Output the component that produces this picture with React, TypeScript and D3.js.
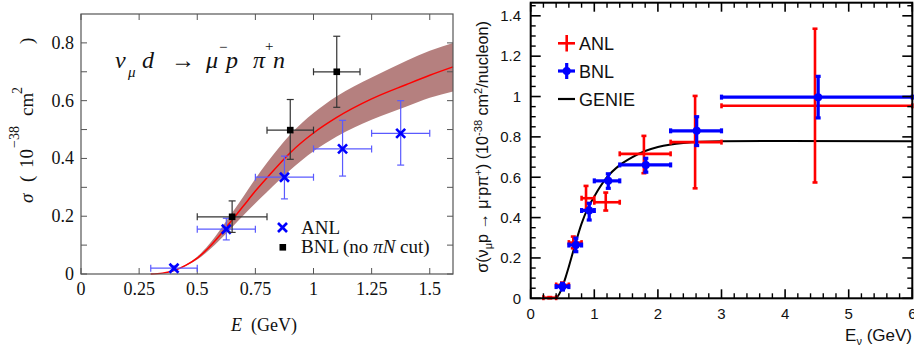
import React from 'react';
import * as d3 from 'd3';

// ---------- Left panel data (nu_mu d -> mu- p pi+ n) ----------
const leftCurveE = [0.3, 0.35, 0.4, 0.45, 0.5, 0.55, 0.6, 0.65, 0.7, 0.75, 0.8, 0.9, 1.0, 1.1, 1.25, 1.4, 1.5, 1.6];
const leftCurveMid = [0, 0.003, 0.012, 0.03, 0.055, 0.092, 0.137, 0.187, 0.237, 0.287, 0.333, 0.42, 0.488, 0.542, 0.606, 0.656, 0.688, 0.717];
const leftCurveUpper = [0, 0.003, 0.013, 0.032, 0.06, 0.102, 0.155, 0.212, 0.27, 0.33, 0.385, 0.483, 0.557, 0.615, 0.68, 0.738, 0.773, 0.8];
const leftCurveLower = [0, 0.003, 0.011, 0.028, 0.05, 0.082, 0.12, 0.162, 0.204, 0.245, 0.284, 0.36, 0.425, 0.476, 0.534, 0.58, 0.61, 0.632];

const anlLeftE = [0.4, 0.625, 0.875, 1.125, 1.375];
const anlLeftSigma = [0.02, 0.155, 0.335, 0.433, 0.487];
const anlLeftELo = [0.3, 0.5, 0.75, 1.0, 1.25];
const anlLeftEHi = [0.5, 0.75, 1.0, 1.25, 1.5];
const anlLeftSigLo = [0.012, 0.118, 0.26, 0.339, 0.377];
const anlLeftSigHi = [0.028, 0.193, 0.408, 0.532, 0.6];

const bnlLeftE = [0.65, 0.9, 1.1];
const bnlLeftSigma = [0.198, 0.498, 0.7];
const bnlLeftELo = [0.5, 0.8, 1.0];
const bnlLeftEHi = [0.8, 1.0, 1.2];
const bnlLeftSigLo = [0.144, 0.397, 0.577];
const bnlLeftSigHi = [0.253, 0.604, 0.823];

const leftXTicks = [0, 0.25, 0.5, 0.75, 1, 1.25, 1.5];
const leftXTickLabels = ['0', '0.25', '0.5', '0.75', '1', '1.25', '1.5'];
const leftYTicks = [0, 0.1, 0.2, 0.3, 0.4, 0.5, 0.6, 0.7, 0.8];
const leftYTickLabels = ['0', '', '0.2', '', '0.4', '', '0.6', '', '0.8'];

// ---------- Right panel data (nu_mu p -> mu- p pi+) ----------
const genieE = [0.4, 0.45, 0.5, 0.55, 0.6, 0.7, 0.8, 0.9, 1.0, 1.2, 1.4, 1.6, 1.8, 2.0, 2.4, 3.0, 4.0, 6.0];
const genieSigma = [0, 0.022, 0.058, 0.105, 0.157, 0.268, 0.37, 0.448, 0.505, 0.6, 0.66, 0.7, 0.73, 0.75, 0.77, 0.778, 0.78, 0.778];

const anlRightE = [0.3, 0.5, 0.67, 0.87, 1.18, 1.78, 2.585, 4.47];
const anlRightSigma = [0.003, 0.066, 0.276, 0.496, 0.476, 0.716, 0.774, 0.954];
const anlRightELo = [0.2, 0.4, 0.6, 0.8, 1.0, 1.4, 2.2, 3.0];
const anlRightEHi = [0.4, 0.6, 0.8, 1.0, 1.4, 2.2, 3.0, 6.0];
const anlRightSigLo = [0.0, 0.055, 0.248, 0.438, 0.435, 0.62, 0.545, 0.574];
const anlRightSigHi = [0.006, 0.078, 0.306, 0.557, 0.524, 0.805, 1.003, 1.336];

const bnlRightE = [0.5, 0.71, 0.92, 1.22, 1.81, 2.61, 4.52];
const bnlRightSigma = [0.058, 0.264, 0.435, 0.582, 0.661, 0.83, 0.997];
const bnlRightELo = [0.4, 0.6, 0.8, 1.0, 1.4, 2.2, 3.0];
const bnlRightEHi = [0.6, 0.8, 1.0, 1.4, 2.2, 3.0, 6.0];
const bnlRightSigLo = [0.041, 0.231, 0.388, 0.545, 0.625, 0.757, 0.894];
const bnlRightSigHi = [0.074, 0.298, 0.471, 0.617, 0.694, 0.9, 1.1];

const rightXTicks = [0, 1, 2, 3, 4, 5, 6];
const rightXTickLabels = ['0', '1', '2', '3', '4', '5', '6'];
const rightYTicks = [0, 0.2, 0.4, 0.6, 0.8, 1.0, 1.2, 1.4];
const rightYTickLabels = ['0', '0.2', '0.4', '0.6', '0.8', '1', '1.2', '1.4'];

const SERIF = "'Liberation Serif', 'Times New Roman', serif";
const SANS = "'Liberation Sans', Arial, Helvetica, sans-serif";

function ErrBar({ x, y, x0, x1, y0, y1, color, width, cap }: any) {
  return (
    <g stroke={color} strokeWidth={width} fill="none">
      <line x1={x0} x2={x1} y1={y} y2={y} />
      <line x1={x} x2={x} y1={y0} y2={y1} />
      <line x1={x0} x2={x0} y1={y - cap} y2={y + cap} />
      <line x1={x1} x2={x1} y1={y - cap} y2={y + cap} />
      <line x1={x - cap} x2={x + cap} y1={y0} y2={y0} />
      <line x1={x - cap} x2={x + cap} y1={y1} y2={y1} />
    </g>
  );
}

export default function App() {
  // Left scales
  const xL = d3.scaleLinear().domain([0, 1.6]).range([81, 453]);
  const yL = d3.scaleLinear().domain([0, 0.9]).range([274, 14]);
  // Right scales
  const xR = d3.scaleLinear().domain([0, 6]).range([530.7, 912.3]);
  const yR = d3.scaleLinear().domain([0, 1.465]).range([298.3, 2.7]);

  const band = d3
    .area<number>()
    .x((_, i) => xL(leftCurveE[i]))
    .y0((_, i) => yL(leftCurveLower[i]))
    .y1((_, i) => yL(leftCurveUpper[i]))
    .curve(d3.curveMonotoneX)(leftCurveE);
  const midLine = d3
    .line<number>()
    .x((_, i) => xL(leftCurveE[i]))
    .y((_, i) => yL(leftCurveMid[i]))
    .curve(d3.curveMonotoneX)(leftCurveE);
  const genieLine = d3
    .line<number>()
    .x((_, i) => xR(genieE[i]))
    .y((_, i) => yR(genieSigma[i]))
    .curve(d3.curveMonotoneX)(genieE);

  const [lx0, lx1] = xL.range();
  const [ly0, ly1] = yL.range();
  const [rx0, rx1] = xR.range();
  const [ry0, ry1] = yR.range();

  const rightXMinor = d3.range(0, 6.001, 0.2).filter((v) => Math.abs(v - Math.round(v)) > 1e-6);
  const rightYMinor = d3.range(0, 1.46, 0.05).filter((v) => Math.abs(v * 5 - Math.round(v * 5)) > 1e-6);

  const blue = '#0000ff';
  const lightBlue = '#5a5aff';
  const red = '#ff0000';

  return (
    <div style={{ position: 'absolute', left: 0, top: 0 }}>
      <svg width={914} height={352} style={{ display: 'block', background: '#fff' }}>
        {/* ================= LEFT PANEL ================= */}
        <g>
          <path d={band || ''} fill="#b5807f" />
          <path d={midLine || ''} fill="none" stroke="#ff0000" strokeWidth={1.5} />

          {/* frame */}
          <rect x={lx0} y={ly1} width={lx1 - lx0} height={ly0 - ly1} fill="none" stroke="#555" strokeWidth={1.2} />
          {leftXTicks.map((t, i) => (
            <g key={'lxt' + i} stroke="#555" strokeWidth={1}>
              <line x1={xL(t)} x2={xL(t)} y1={ly0} y2={ly0 - 6} />
              <line x1={xL(t)} x2={xL(t)} y1={ly1} y2={ly1 + 6} />
            </g>
          ))}
          {leftYTicks.map((t, i) => (
            <g key={'lyt' + i} stroke="#555" strokeWidth={1}>
              <line x1={lx0} x2={lx0 + 6} y1={yL(t)} y2={yL(t)} />
              <line x1={lx1} x2={lx1 - 6} y1={yL(t)} y2={yL(t)} />
            </g>
          ))}
          {leftXTicks.map((t, i) => (
            <text key={'lxl' + i} x={xL(t)} y={294.5} textAnchor="middle" fontFamily={SERIF} fontSize={18} fill="#111">
              {leftXTickLabels[i]}
            </text>
          ))}
          {leftYTicks.map((t, i) =>
            leftYTickLabels[i] ? (
              <text key={'lyl' + i} x={74} y={yL(t) + 6} textAnchor="end" fontFamily={SERIF} fontSize={18} fill="#111">
                {leftYTickLabels[i]}
              </text>
            ) : null
          )}

          {/* axis titles */}
          <text x={264} y={330.5} textAnchor="middle" fontFamily={SERIF} fontSize={18} fill="#111">
            <tspan fontStyle="italic">E</tspan>
            <tspan>{'\u2002(GeV)'}</tspan>
          </text>
          <g transform="translate(33,0) rotate(-90)" fontFamily={SERIF} fontSize={19} fill="#111">
            <text x={-203} y={0} fontStyle="italic">σ</text>
            <text x={-182} y={0}>(</text>
            <text x={-168} y={0}>10</text>
            <text x={-148} y={-14} fontSize={14}>−38</text>
            <text x={-116} y={0}>cm</text>
            <text x={-94} y={-11} fontSize={14}>2</text>
            <text x={-44} y={0}>)</text>
          </g>

          {/* reaction label */}
          <g fontFamily={SERIF} fontSize={24} fontStyle="italic" fill="#111">
            <text x={115} y={68}>ν</text>
            <text x={128} y={77} fontSize={15}>μ</text>
            <text x={142} y={68}>d</text>
            <text x={171} y={68} fontStyle="normal">→</text>
            <text x={206} y={68}>μ</text>
            <text x={219} y={52} fontSize={15} fontStyle="normal">−</text>
            <text x={226} y={68}>p</text>
            <text x={253} y={68}>π</text>
            <text x={265} y={51} fontSize={15} fontStyle="normal">+</text>
            <text x={273} y={68}>n</text>
          </g>

          {/* ANL data */}
          {anlLeftE.map((e, i) => (
            <g key={'anlL' + i}>
              <ErrBar
                x={xL(e)}
                y={yL(anlLeftSigma[i])}
                x0={xL(anlLeftELo[i])}
                x1={xL(anlLeftEHi[i])}
                y0={yL(anlLeftSigLo[i])}
                y1={yL(anlLeftSigHi[i])}
                color={lightBlue}
                width={1.2}
                cap={3.5}
              />
              <g stroke={blue} strokeWidth={2.6}>
                <line x1={xL(e) - 4.5} x2={xL(e) + 4.5} y1={yL(anlLeftSigma[i]) - 4.5} y2={yL(anlLeftSigma[i]) + 4.5} />
                <line x1={xL(e) - 4.5} x2={xL(e) + 4.5} y1={yL(anlLeftSigma[i]) + 4.5} y2={yL(anlLeftSigma[i]) - 4.5} />
              </g>
            </g>
          ))}
          {/* BNL data */}
          {bnlLeftE.map((e, i) => (
            <g key={'bnlL' + i}>
              <ErrBar
                x={xL(e)}
                y={yL(bnlLeftSigma[i])}
                x0={xL(bnlLeftELo[i])}
                x1={xL(bnlLeftEHi[i])}
                y0={yL(bnlLeftSigLo[i])}
                y1={yL(bnlLeftSigHi[i])}
                color="#333"
                width={1.2}
                cap={3.5}
              />
              <rect x={xL(e) - 3.3} y={yL(bnlLeftSigma[i]) - 3.3} width={6.6} height={6.6} fill="#000" />
            </g>
          ))}

          {/* legend */}
          <g stroke={blue} strokeWidth={2.6}>
            <line x1={278} x2={287} y1={223} y2={232} />
            <line x1={278} x2={287} y1={232} y2={223} />
          </g>
          <text x={301} y={234} fontFamily={SERIF} fontSize={19} fill="#111">ANL</text>
          <rect x={279.5} y={244} width={6.6} height={6.6} fill="#000" />
          <text x={301} y={253} fontFamily={SERIF} fontSize={19} fill="#111">
            <tspan>BNL (no </tspan>
            <tspan fontStyle="italic">πN</tspan>
            <tspan> cut)</tspan>
          </text>
        </g>

        {/* ================= RIGHT PANEL ================= */}
        <g>
          {/* GENIE */}
          <path d={genieLine || ''} fill="none" stroke="#000" strokeWidth={2} />

          {/* ANL (red) */}
          {anlRightE.map((e, i) => (
            <ErrBar
              key={'anlR' + i}
              x={xR(e)}
              y={yR(anlRightSigma[i])}
              x0={xR(anlRightELo[i])}
              x1={xR(anlRightEHi[i])}
              y0={yR(anlRightSigLo[i])}
              y1={yR(anlRightSigHi[i])}
              color={red}
              width={2.6}
              cap={2.5}
            />
          ))}
          {/* BNL (blue) */}
          {bnlRightE.map((e, i) => (
            <g key={'bnlR' + i}>
              <ErrBar
                x={xR(e)}
                y={yR(bnlRightSigma[i])}
                x0={xR(bnlRightELo[i])}
                x1={xR(bnlRightEHi[i])}
                y0={yR(bnlRightSigLo[i])}
                y1={yR(bnlRightSigHi[i])}
                color={blue}
                width={3.2}
                cap={2.5}
              />
              <circle cx={xR(e)} cy={yR(bnlRightSigma[i])} r={4} fill={blue} />
            </g>
          ))}

          {/* frame */}
          <rect x={rx0} y={ry1} width={rx1 - rx0} height={ry0 - ry1} fill="none" stroke="#000" strokeWidth={2} />
          {rightXTicks.map((t, i) => (
            <g key={'rxt' + i} stroke="#000" strokeWidth={1.6}>
              <line x1={xR(t)} x2={xR(t)} y1={ry0} y2={ry0 - 9} />
              <line x1={xR(t)} x2={xR(t)} y1={ry1} y2={ry1 + 9} />
            </g>
          ))}
          {rightXMinor.map((t, i) => (
            <g key={'rxm' + i} stroke="#000" strokeWidth={1.4}>
              <line x1={xR(t)} x2={xR(t)} y1={ry0} y2={ry0 - 5} />
              <line x1={xR(t)} x2={xR(t)} y1={ry1} y2={ry1 + 5} />
            </g>
          ))}
          {rightYTicks.map((t, i) => (
            <g key={'ryt' + i} stroke="#000" strokeWidth={1.6}>
              <line x1={rx0} x2={rx0 + 10} y1={yR(t)} y2={yR(t)} />
              <line x1={rx1} x2={rx1 - 10} y1={yR(t)} y2={yR(t)} />
            </g>
          ))}
          {rightYMinor.map((t, i) => (
            <g key={'rym' + i} stroke="#000" strokeWidth={1.4}>
              <line x1={rx0} x2={rx0 + 5} y1={yR(t)} y2={yR(t)} />
              <line x1={rx1} x2={rx1 - 5} y1={yR(t)} y2={yR(t)} />
            </g>
          ))}
          {rightXTicks.map((t, i) => (
            <text key={'rxl' + i} x={xR(t)} y={318.5} textAnchor="middle" fontFamily={SANS} fontSize={15} fill="#111">
              {rightXTickLabels[i]}
            </text>
          ))}
          {rightYTicks.map((t, i) => (
            <text key={'ryl' + i} x={521} y={yR(t) + 5.3} textAnchor="end" fontFamily={SANS} fontSize={15} fill="#111">
              {rightYTickLabels[i]}
            </text>
          ))}

          {/* axis titles */}
          <text x={912} y={341} textAnchor="end" fontFamily={SANS} fontSize={17} fill="#111">
            <tspan>E</tspan>
            <tspan fontSize={11} dy={4}>ν</tspan>
            <tspan dy={-4}>{' (GeV)'}</tspan>
          </text>
          <text transform="translate(488,147) rotate(-90)" textAnchor="middle" fontFamily={SANS} fontSize={16.2} fill="#111">
            <tspan>σ(ν</tspan>
            <tspan fontSize={11} dy={4}>μ</tspan>
            <tspan dy={-4}>p → μ</tspan>
            <tspan fontSize={11} dy={-6}>-</tspan>
            <tspan dy={6}>pπ</tspan>
            <tspan fontSize={11} dy={-6}>+</tspan>
            <tspan dy={6}>) (10</tspan>
            <tspan fontSize={11} dy={-6}>-38</tspan>
            <tspan dy={6}> cm</tspan>
            <tspan fontSize={11} dy={-6}>2</tspan>
            <tspan dy={6}>/nucleon)</tspan>
          </text>

          {/* legend */}
          <g stroke={red} strokeWidth={2.6}>
            <line x1={558} x2={575} y1={43.3} y2={43.3} />
            <line x1={566.7} x2={566.7} y1={35} y2={51.5} />
          </g>
          <text x={579} y={50} fontFamily={SANS} fontSize={18} fill="#111">ANL</text>
          <g stroke={blue} strokeWidth={3.2}>
            <line x1={558} x2={575} y1={71} y2={71} />
            <line x1={566.7} x2={566.7} y1={63} y2={79} />
          </g>
          <circle cx={566.7} cy={71} r={4} fill={blue} />
          <text x={579} y={77.5} fontFamily={SANS} fontSize={18} fill="#111">BNL</text>
          <line x1={558} x2={575} y1={99} y2={99} stroke="#000" strokeWidth={2.2} />
          <text x={579} y={105.5} fontFamily={SANS} fontSize={18} fill="#111">GENIE</text>
        </g>
      </svg>
    </div>
  );
}
